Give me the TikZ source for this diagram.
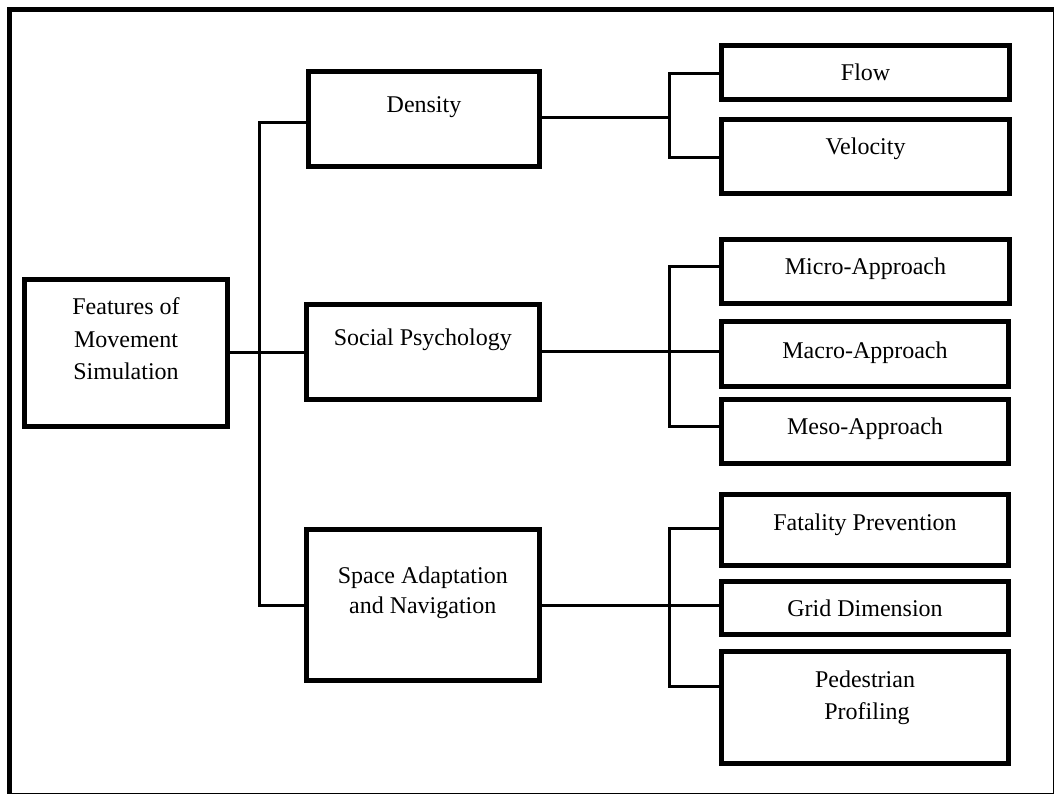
\documentclass[tikz,border=0pt]{standalone}
\usepackage{fontspec}
\setmainfont{Liberation Serif}
\begin{document}
\begin{tikzpicture}[x=1pt,y=-1pt,
  box/.style={draw, line width=5pt, rectangle, inner sep=0pt, fill=white},
  conn/.style={line width=3pt, line join=miter},
  lbl/.style={anchor=base, inner sep=0pt, font=\fontsize{24}{32}\selectfont},
  frame/.style={line width=5pt}]
\useasboundingbox (0,0) rectangle (1054,794);
\fill[white] (0,0) rectangle (1054,794);
\draw[frame] (9.2,9.2) rectangle (1055,795);

% boxes
\node[box, minimum width=203pt, minimum height=147pt] (feat) at (126,353.3) {};
\node[box, minimum width=231pt, minimum height=95pt] (den) at (424,119) {};
\node[box, minimum width=233.5pt, minimum height=95.6pt] (soc) at (422.75,352) {};
\node[box, minimum width=233.5pt, minimum height=151.5pt] (spc) at (422.75,604.75) {};
\node[box, minimum width=287.7pt, minimum height=53.7pt] (flow) at (865.6,72.65) {};
\node[box, minimum width=288pt, minimum height=74pt] (vel) at (865.5,156.2) {};
\node[box, minimum width=288pt, minimum height=64.3pt] (mic) at (865.5,271.35) {};
\node[box, minimum width=287pt, minimum height=65pt] (mac) at (865,354.3) {};
\node[box, minimum width=287pt, minimum height=64pt] (mes) at (865,431.2) {};
\node[box, minimum width=287pt, minimum height=70.4pt] (fat) at (865,530) {};
\node[box, minimum width=287pt, minimum height=53.6pt] (grd) at (865,608) {};
\node[box, minimum width=287pt, minimum height=111.4pt] (ped) at (865,707.5) {};

% labels
\node[lbl] (featA) at (126,314.5) {Features of};
\node[lbl] (featB) at (126,347) {Movement};
\node[lbl] (featC) at (126,379) {Simulation};
\node[lbl] (denL) at (424,113) {Density};
\node[lbl] (socL) at (422.75,345) {Social Psychology};
\node[lbl] (spcA) at (422.75,583) {Space Adaptation};
\node[lbl] (spcB) at (422.75,613.7) {and Navigation};
\node[lbl] (flowL) at (865.6,81) {Flow};
\node[lbl] (velL) at (865.5,154.5) {Velocity};
\node[lbl] (micL) at (865.5,274.5) {Micro-Approach};
\node[lbl] (macL) at (865,358) {Macro-Approach};
\node[lbl] (mesL) at (865,434.5) {Meso-Approach};
\node[lbl] (fatL) at (865,530.5) {Fatality Prevention};
\node[lbl] (grdL) at (865,616) {Grid Dimension};
\node[lbl] (pedA) at (865,687) {Pedestrian};
\node[lbl] (pedB) at (867,719.3) {Profiling};

% junction coordinates
\coordinate (t1) at (259,122.7);
\coordinate (t2) at (259,605.3);
\coordinate (m) at (0,352.3);
\coordinate (d0) at (669.3,117.3);
\coordinate (d1) at (669.3,74);
\coordinate (d2) at (669.3,157.3);
\coordinate (s0) at (669.3,351.7);
\coordinate (s1) at (669.3,266.7);
\coordinate (s2) at (669.3,426.7);
\coordinate (p0) at (669.3,605);
\coordinate (p1) at (669.3,528);
\coordinate (p2) at (669.3,686.3);

% connectors
\draw[conn] (den.west |- t1) -- (t1) -- (t2) -- (spc.west |- t2);
\draw[conn] (feat.east |- m) -- (soc.west |- m);
\draw[conn] (den.east |- d0) -- (d0);
\draw[conn] (flow.west |- d1) -- (d1) -- (d2) -- (vel.west |- d2);
\draw[conn] (soc.east |- s0) -- (mac.west |- s0);
\draw[conn] (mic.west |- s1) -- (s1) -- (s2) -- (mes.west |- s2);
\draw[conn] (spc.east |- p0) -- (grd.west |- p0);
\draw[conn] (fat.west |- p1) -- (p1) -- (p2) -- (ped.west |- p2);
\end{tikzpicture}
\end{document}
